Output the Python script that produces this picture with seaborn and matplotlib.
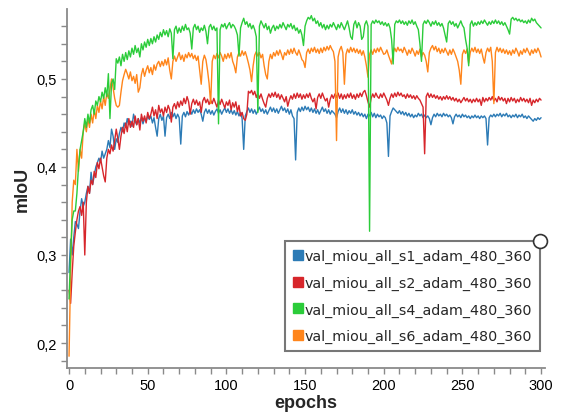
import numpy as np
import pandas as pd
import matplotlib
matplotlib.use('Agg')
import matplotlib.pyplot as plt
import seaborn as sns
from matplotlib.lines import Line2D
from matplotlib.ticker import MultipleLocator, FuncFormatter

names = ['val_miou_all_s1_adam_480_360', 'val_miou_all_s2_adam_480_360',
         'val_miou_all_s4_adam_480_360', 'val_miou_all_s6_adam_480_360']
colors = ['#2c7bb6', '#d7262b', '#2bcc3a', '#ff851b']

s1 = [0.28, 0.318, 0.30, 0.32, 0.338, 0.335, 0.33, 0.35, 0.364, 0.355, 0.36,
      0.37, 0.378, 0.37, 0.394, 0.38, 0.39, 0.4, 0.405, 0.41, 0.405,
      0.418, 0.41, 0.415, 0.42, 0.43, 0.422, 0.443, 0.435, 0.42, 0.432,
      0.428, 0.438, 0.445, 0.44, 0.45, 0.445, 0.455, 0.448, 0.452, 0.446,
      0.46, 0.452, 0.448, 0.455, 0.45, 0.456, 0.449, 0.455, 0.452, 0.458,
      0.454, 0.458, 0.45, 0.456, 0.445, 0.435, 0.455, 0.46, 0.453, 0.458,
      0.435, 0.456, 0.46, 0.455, 0.462, 0.457, 0.461, 0.455, 0.46, 0.456,
      0.426, 0.458, 0.462, 0.457, 0.463, 0.459, 0.464, 0.46, 0.465, 0.461,
      0.466, 0.462, 0.465, 0.46, 0.452, 0.462, 0.466, 0.461, 0.465, 0.46,
      0.464, 0.459, 0.463, 0.466, 0.461, 0.465, 0.46, 0.464, 0.467, 0.462,
      0.466, 0.461, 0.465, 0.46, 0.464, 0.459, 0.463, 0.458, 0.462, 0.455,
      0.42, 0.458, 0.463, 0.467, 0.462, 0.466, 0.461, 0.465, 0.46, 0.464,
      0.468, 0.463, 0.466, 0.461, 0.465, 0.46, 0.464, 0.468, 0.463, 0.467,
      0.462, 0.466, 0.461, 0.465, 0.469, 0.464, 0.467, 0.462, 0.466, 0.46,
      0.465, 0.458, 0.455, 0.408, 0.462, 0.467, 0.463, 0.468, 0.464, 0.469,
      0.465, 0.468, 0.463, 0.467, 0.462, 0.466, 0.461, 0.465, 0.46, 0.464,
      0.468, 0.463, 0.466, 0.461, 0.465, 0.46, 0.464, 0.462, 0.46, 0.456,
      0.463, 0.467, 0.462, 0.466, 0.461, 0.465, 0.46, 0.464, 0.461, 0.465,
      0.46, 0.463, 0.459, 0.462, 0.458, 0.461, 0.457, 0.46, 0.455, 0.46,
      0.458, 0.462, 0.457, 0.461, 0.456, 0.46, 0.457, 0.459, 0.455, 0.458,
      0.456, 0.45, 0.412, 0.458, 0.463, 0.467, 0.465, 0.463, 0.461, 0.464,
      0.46, 0.463, 0.459, 0.462, 0.458, 0.461, 0.457, 0.46, 0.456, 0.459,
      0.457, 0.461, 0.458, 0.46, 0.456, 0.459, 0.456, 0.458, 0.455, 0.448,
      0.456, 0.46, 0.457, 0.461, 0.458, 0.46, 0.457, 0.461, 0.458, 0.46,
      0.457, 0.459, 0.456, 0.449, 0.457, 0.46, 0.457, 0.459, 0.456, 0.46,
      0.457, 0.459, 0.456, 0.458, 0.455, 0.458, 0.456, 0.459, 0.456, 0.458,
      0.455, 0.458, 0.456, 0.458, 0.455, 0.425, 0.456, 0.459, 0.457, 0.46,
      0.457, 0.46, 0.458, 0.461, 0.457, 0.46, 0.458, 0.461, 0.457, 0.459,
      0.456, 0.459, 0.457, 0.46, 0.456, 0.459, 0.457, 0.46, 0.456, 0.458,
      0.455, 0.458, 0.456, 0.454, 0.452, 0.455, 0.453, 0.456, 0.454, 0.456]

s2 = [0.26, 0.245, 0.28, 0.31, 0.326, 0.34, 0.35, 0.355, 0.345, 0.36, 0.30,
      0.36, 0.378, 0.37, 0.385, 0.38, 0.395, 0.388, 0.405, 0.398, 0.41,
      0.4, 0.39, 0.383, 0.41, 0.42, 0.415, 0.425, 0.418, 0.43, 0.443,
      0.432, 0.42, 0.435, 0.445, 0.438, 0.45, 0.44, 0.455, 0.445, 0.452,
      0.445, 0.458, 0.448, 0.455, 0.442, 0.46, 0.452, 0.458, 0.45, 0.462,
      0.455, 0.46, 0.468, 0.458, 0.465, 0.455, 0.47, 0.462, 0.466, 0.458,
      0.468, 0.462, 0.47, 0.465, 0.451, 0.468, 0.472, 0.466, 0.474, 0.468,
      0.475, 0.47, 0.478, 0.472, 0.48, 0.474, 0.46, 0.472, 0.477, 0.471,
      0.476, 0.47, 0.474, 0.462, 0.475, 0.479, 0.473, 0.477, 0.471, 0.476,
      0.472, 0.478, 0.473, 0.468, 0.476, 0.471, 0.477, 0.472, 0.467, 0.474,
      0.47, 0.476, 0.465, 0.473, 0.468, 0.474, 0.463, 0.47, 0.458, 0.462,
      0.455, 0.453, 0.46, 0.486, 0.484, 0.487, 0.482, 0.486, 0.479, 0.484,
      0.478, 0.483, 0.477, 0.472, 0.468, 0.478, 0.483, 0.479, 0.484, 0.48,
      0.485, 0.479, 0.483, 0.477, 0.482, 0.478, 0.474, 0.48, 0.469, 0.476,
      0.481, 0.477, 0.483, 0.478, 0.484, 0.479, 0.483, 0.477, 0.482, 0.478,
      0.483, 0.479, 0.484, 0.478, 0.474, 0.478, 0.466, 0.479, 0.483, 0.478,
      0.484, 0.479, 0.475, 0.478, 0.468, 0.477, 0.482, 0.478, 0.483, 0.479,
      0.484, 0.478, 0.483, 0.477, 0.482, 0.478, 0.483, 0.479, 0.484, 0.478,
      0.482, 0.477, 0.483, 0.479, 0.484, 0.48, 0.485, 0.487, 0.481, 0.474,
      0.468, 0.478, 0.483, 0.479, 0.484, 0.48, 0.478, 0.483, 0.479, 0.484,
      0.48, 0.476, 0.47, 0.478, 0.483, 0.479, 0.484, 0.48, 0.485, 0.481,
      0.484, 0.48, 0.482, 0.478, 0.483, 0.479, 0.482, 0.478, 0.481, 0.477,
      0.481, 0.478, 0.476, 0.472, 0.468, 0.415, 0.48, 0.484, 0.479, 0.483,
      0.479, 0.482, 0.478, 0.481, 0.477, 0.48, 0.476, 0.48, 0.477, 0.481,
      0.477, 0.48, 0.476, 0.479, 0.475, 0.478, 0.474, 0.477, 0.473, 0.476,
      0.479, 0.475, 0.478, 0.474, 0.477, 0.473, 0.477, 0.474, 0.478, 0.474,
      0.477, 0.47, 0.479, 0.474, 0.478, 0.475, 0.479, 0.476, 0.48, 0.475,
      0.478, 0.474, 0.48, 0.476, 0.479, 0.475, 0.478, 0.472, 0.478, 0.474,
      0.479, 0.475, 0.478, 0.473, 0.477, 0.474, 0.479, 0.475, 0.478, 0.474,
      0.477, 0.473, 0.478, 0.47, 0.476, 0.473, 0.477, 0.474, 0.478, 0.476]

s4 = [0.25, 0.30, 0.34, 0.35, 0.35, 0.37, 0.40, 0.42, 0.43, 0.44, 0.455,
      0.445, 0.46, 0.45, 0.465, 0.47, 0.46, 0.475, 0.47, 0.48, 0.474,
      0.485, 0.478, 0.49, 0.48, 0.506, 0.455, 0.495, 0.50, 0.488, 0.523,
      0.518, 0.525, 0.515, 0.528, 0.52, 0.53, 0.522, 0.532, 0.525, 0.535,
      0.528, 0.538, 0.53, 0.535, 0.525, 0.54, 0.533, 0.542, 0.536, 0.545,
      0.538, 0.546, 0.54, 0.548, 0.542, 0.55, 0.545, 0.553, 0.548, 0.556,
      0.55, 0.555, 0.548, 0.557, 0.552, 0.523, 0.556, 0.56, 0.552, 0.558,
      0.553, 0.56, 0.555, 0.562, 0.556, 0.558, 0.552, 0.534, 0.558, 0.562,
      0.556, 0.56, 0.553, 0.558, 0.555, 0.561, 0.554, 0.54, 0.559, 0.562,
      0.556, 0.56, 0.555, 0.558, 0.449, 0.556, 0.562, 0.559, 0.563, 0.557,
      0.561, 0.564, 0.558, 0.562, 0.56, 0.556, 0.55, 0.526, 0.558, 0.564,
      0.569, 0.562, 0.565, 0.559, 0.563, 0.557, 0.561, 0.556, 0.548, 0.462,
      0.56, 0.566, 0.562, 0.558, 0.563, 0.556, 0.56, 0.552, 0.558, 0.561,
      0.555, 0.56, 0.557, 0.562, 0.558, 0.564, 0.56, 0.556, 0.562, 0.559,
      0.563, 0.557, 0.561, 0.555, 0.558, 0.552, 0.556, 0.55, 0.538, 0.56,
      0.566, 0.57, 0.568, 0.572, 0.566, 0.569, 0.563, 0.566, 0.56, 0.564,
      0.558, 0.562, 0.556, 0.561, 0.557, 0.562, 0.559, 0.564, 0.56, 0.556,
      0.562, 0.558, 0.564, 0.56, 0.556, 0.561, 0.566, 0.558, 0.548, 0.545,
      0.562, 0.566, 0.558, 0.564, 0.56, 0.545, 0.548, 0.562, 0.566, 0.56,
      0.327, 0.562, 0.566, 0.563, 0.567, 0.564, 0.566, 0.562, 0.565, 0.561,
      0.564, 0.56, 0.563, 0.558, 0.545, 0.517, 0.562, 0.566, 0.564, 0.567,
      0.563, 0.566, 0.562, 0.565, 0.561, 0.566, 0.563, 0.567, 0.562, 0.565,
      0.56, 0.556, 0.54, 0.52, 0.562, 0.566, 0.563, 0.567, 0.564, 0.56,
      0.565, 0.562, 0.566, 0.561, 0.564, 0.56, 0.563, 0.558, 0.55, 0.542,
      0.563, 0.566, 0.562, 0.565, 0.56, 0.563, 0.558, 0.562, 0.566, 0.561,
      0.558, 0.545, 0.535, 0.515, 0.562, 0.566, 0.56, 0.564, 0.561, 0.565,
      0.562, 0.566, 0.563, 0.567, 0.564, 0.561, 0.565, 0.562, 0.566, 0.563,
      0.567, 0.563, 0.566, 0.562, 0.565, 0.561, 0.564, 0.56, 0.556, 0.551,
      0.568, 0.57, 0.567, 0.569, 0.566, 0.568, 0.565, 0.567, 0.564, 0.566,
      0.563, 0.567, 0.564, 0.569, 0.566, 0.568, 0.564, 0.562, 0.56, 0.558]

s6 = [0.185, 0.28, 0.36, 0.385, 0.38, 0.42, 0.395, 0.42, 0.41, 0.44, 0.45,
      0.44, 0.455, 0.445, 0.46, 0.45, 0.465, 0.455, 0.47, 0.462, 0.475,
      0.466, 0.48, 0.47, 0.484, 0.478, 0.488, 0.50, 0.49, 0.478, 0.47,
      0.468, 0.47, 0.485, 0.498, 0.505, 0.511, 0.506, 0.50, 0.508, 0.498,
      0.503, 0.495, 0.505, 0.485, 0.49, 0.505, 0.512, 0.503, 0.51, 0.515,
      0.507, 0.513, 0.505, 0.516, 0.51, 0.517, 0.52, 0.514, 0.52, 0.515,
      0.522, 0.516, 0.524, 0.51, 0.5, 0.52, 0.526, 0.52, 0.525, 0.53,
      0.522, 0.527, 0.52, 0.528, 0.524, 0.53, 0.525, 0.529, 0.523, 0.527,
      0.521, 0.526, 0.51, 0.494, 0.52, 0.527, 0.522, 0.51, 0.495, 0.472,
      0.52, 0.527, 0.523, 0.529, 0.524, 0.53, 0.526, 0.52, 0.528, 0.523,
      0.529, 0.524, 0.53, 0.52, 0.515, 0.507, 0.525, 0.53, 0.526, 0.532,
      0.527, 0.531, 0.525, 0.518, 0.51, 0.497, 0.515, 0.527, 0.531, 0.526,
      0.53, 0.524, 0.528, 0.515, 0.505, 0.5, 0.52, 0.528, 0.523, 0.53,
      0.526, 0.532, 0.527, 0.533, 0.528, 0.522, 0.53, 0.527, 0.533, 0.528,
      0.534, 0.529, 0.535, 0.53, 0.527, 0.533, 0.528, 0.522, 0.52, 0.513,
      0.53, 0.534, 0.529, 0.535, 0.531, 0.536, 0.53, 0.534, 0.529, 0.535,
      0.53, 0.536, 0.532, 0.537, 0.533, 0.538, 0.534, 0.531, 0.52, 0.43,
      0.525, 0.533, 0.537, 0.53, 0.494, 0.528, 0.534, 0.53, 0.536, 0.531,
      0.535, 0.53, 0.534, 0.529, 0.533, 0.527, 0.532, 0.525, 0.515, 0.502,
      0.528, 0.533, 0.528, 0.534, 0.53, 0.535, 0.531, 0.536, 0.532, 0.528,
      0.529, 0.533, 0.527, 0.522, 0.517, 0.53, 0.535, 0.531, 0.536, 0.532,
      0.534, 0.53, 0.536, 0.532, 0.527, 0.533, 0.529, 0.535, 0.531, 0.526,
      0.532, 0.528, 0.534, 0.525, 0.53, 0.527, 0.52, 0.508, 0.53, 0.535,
      0.538, 0.533, 0.537, 0.531, 0.535, 0.529, 0.534, 0.53, 0.535, 0.531,
      0.527, 0.533, 0.528, 0.534, 0.53, 0.525, 0.52, 0.51, 0.494, 0.528,
      0.533, 0.529, 0.534, 0.518, 0.53, 0.535, 0.531, 0.536, 0.53, 0.534,
      0.529, 0.534, 0.525, 0.518, 0.53, 0.535, 0.531, 0.536, 0.52, 0.472,
      0.53, 0.536, 0.531, 0.535, 0.53, 0.534, 0.529, 0.533, 0.528, 0.532,
      0.527, 0.533, 0.529, 0.535, 0.531, 0.526, 0.532, 0.528, 0.534, 0.53,
      0.535, 0.531, 0.527, 0.533, 0.529, 0.534, 0.53, 0.535, 0.531, 0.525]

series = [s1, s2, s4, s6]
epochs = np.arange(len(s1))

frames = []
for name, vals in zip(names, series):
    frames.append(pd.DataFrame({'epoch': epochs, 'mIoU': vals, 'run': name}))
df = pd.concat(frames, ignore_index=True)

sns.set_style('ticks')
plt.rcParams['font.family'] = ['Liberation Sans', 'DejaVu Sans']

fig = plt.figure(figsize=(5.67, 4.14), dpi=100)
ax = fig.add_axes([67 / 567, 1 - 369 / 414, 478 / 567, 359 / 414])

palette = dict(zip(names, colors))
# orange is drawn under green, as in the original
draw_order = [names[0], names[1], names[3], names[2]]
sns.lineplot(data=df, x='epoch', y='mIoU', hue='run', hue_order=draw_order,
             palette=palette, estimator=None, lw=1.0, legend=False, ax=ax)

ax.set_xlim(-1.3, 302.5)
ax.set_ylim(0.1716, 0.5795)
ax.xaxis.set_major_locator(MultipleLocator(50))
ax.xaxis.set_minor_locator(MultipleLocator(10))
ax.yaxis.set_major_locator(MultipleLocator(0.1))
ax.yaxis.set_minor_locator(MultipleLocator(0.02))
ax.yaxis.set_major_formatter(FuncFormatter(lambda v, p: f'{v:.1f}'.replace('.', ',')))

sns.despine(ax=ax)
for side in ['left', 'bottom']:
    ax.spines[side].set_color('#8a8a8a')
    ax.spines[side].set_linewidth(1.3)
ax.tick_params(which='both', direction='out', length=4, width=1, color='#8a8a8a',
               labelsize=10.5, labelcolor='black')

ax.set_xlabel('epochs', fontsize=13, fontweight='bold', labelpad=1)
ax.set_ylabel('mIoU', fontsize=13, fontweight='bold', labelpad=4)

handles = [Line2D([], [], ls='', marker='s', markersize=7, color=c) for c in colors]
leg = ax.legend(handles, names, loc='lower right', bbox_to_anchor=(0.99, 0.047),
                borderaxespad=0, frameon=True, fancybox=False, handlelength=0.7,
                handletextpad=0.15, labelspacing=0.88, borderpad=0.55,
                prop={'family': 'DejaVu Sans', 'size': 10.3})
leg.get_frame().set_edgecolor('#777777')
leg.get_frame().set_linewidth(1.5)
leg.get_frame().set_alpha(1)

fig.canvas.draw()
bb = leg.get_window_extent().transformed(ax.transAxes.inverted())
ax.plot([bb.x1], [bb.y1], marker='o', markersize=10, mfc='white', mec='#333333',
        mew=1.2, transform=ax.transAxes, clip_on=False, zorder=10)

fig.savefig('out.png', dpi=100)
